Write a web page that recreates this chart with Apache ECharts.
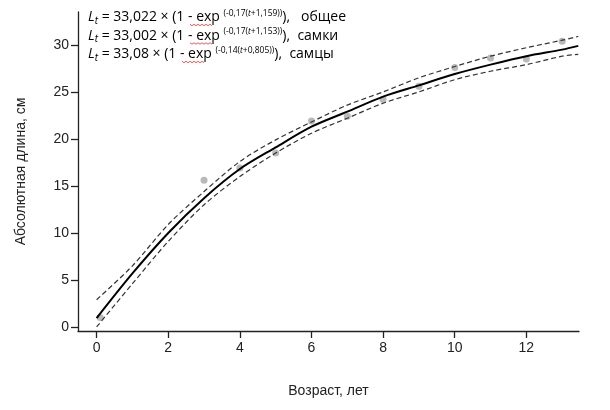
<!DOCTYPE html>
<html>
<head>
<meta charset="utf-8">
<script src="https://cdn.jsdelivr.net/npm/echarts@6/dist/echarts.min.js"></script>
<style>
	html, body { margin: 0; padding: 0; background: #fff; }
	#chart { width: 610px; height: 410px; }
</style>
</head>
<body>
<div id="chart"></div>
<script>
// данные
let ages = [0, 1, 2, 3, 4, 5, 6, 7, 8, 9, 10, 11, 12, 13, 13.45];
let meanLen = [0.95, 5.7, 10.0, 13.7, 16.8, 19.1, 21.3, 22.9, 24.5, 25.7, 26.9, 27.9, 28.8, 29.5, 29.9];
let upperLen = [2.9, 6.5, 10.9, 14.4, 17.6, 19.9, 21.8, 23.6, 25.0, 26.5, 27.7, 28.8, 29.7, 30.5, 30.9];
let lowerLen = [0.0, 4.6, 9.1, 13.0, 16.0, 18.5, 20.6, 22.2, 23.8, 25.0, 26.3, 27.2, 27.9, 28.8, 29.0];

let obsAge = [0.1, 3, 4, 5, 6, 7, 8, 9, 10, 11, 12, 13];
let obsLen = [1.0, 15.6, 16.9, 18.5, 21.9, 22.4, 24.2, 25.6, 27.6, 28.6, 28.5, 30.4];

let xTicks = [0, 2, 4, 6, 8, 10, 12];
let yTicks = [0, 5, 10, 15, 20, 25, 30];

(function() {
	let myChart = echarts.init(document.getElementById('chart'));

	function pairs(xs, ys) {
		return xs.map(function(x, i) { return [x, ys[i]]; });
	}

	let axisFont = { fontFamily: 'Liberation Sans', fontSize: 14, color: '#222' };

	// формулы в левом верхнем углу
	let ff = 'Open Sans';
	let rich = {
		L: { fontFamily: ff, fontSize: 14, fontStyle: 'italic', color: '#111' },
		sub: { fontFamily: ff, fontSize: 10, fontStyle: 'italic', color: '#111', verticalAlign: 'bottom', padding: [6, 0, 0, 0] },
		t: { fontFamily: ff, fontSize: 14, color: '#111' },
		sup: { fontFamily: ff, fontSize: 8.5, color: '#111', verticalAlign: 'top', padding: [0, 0, 8, 0] },
		supi: { fontFamily: ff, fontSize: 8.5, fontStyle: 'italic', color: '#111', verticalAlign: 'top', padding: [0, 0, 8, 0] }
	};
	let formulas = [
		'{L|L}{sub|t}{t| = 33,022 × (1 - exp }{sup|(-0,17(}{supi|t}{sup|+1,159))}{t|),   общее}',
		'{L|L}{sub|t}{t| = 33,002 × (1 - exp }{sup|(-0,17(}{supi|t}{sup|+1,153))}{t|),  самки}',
		'{L|L}{sub|t}{t| = 33,08 × (1 - exp }{sup|(-0,14(}{supi|t}{sup|+0,805))}{t|),  самцы}'
	];
	// начало «exp» в каждой строке (красное волнистое подчёркивание)
	let expLeft = [190, 190, 182];

	let graphics = formulas.map(function(f, i) {
		return {
			type: 'text',
			left: 88,
			top: 9 + i * 18.5,
			style: { text: f, rich: rich }
		};
	});
	expLeft.forEach(function(x0, i) {
		let y0 = 24.5 + i * 18.5;
		let pts = [];
		for (let k = 0; k <= 11; k++) {
			pts.push([x0 + k * 2, y0 + (k % 2 ? 1.2 : -0.2)]);
		}
		graphics.push({
			type: 'polyline',
			shape: { points: pts },
			style: { stroke: '#e03030', lineWidth: 0.8, fill: null }
		});
	});

	let option = {
		animation: false,
		grid: { left: 78, right: 31, top: 12, bottom: 79 },
		xAxis: {
			type: 'value',
			min: -0.52,
			max: 13.47,
			name: 'Возраст, лет',
			nameLocation: 'middle',
			nameGap: 53,
			nameTextStyle: axisFont,
			axisLine: { onZero: false, lineStyle: { color: '#222', width: 1.3 } },
			axisTick: { customValues: xTicks, length: 7, lineStyle: { color: '#222', width: 1.3 } },
			axisLabel: Object.assign({ customValues: xTicks, margin: 10 }, axisFont),
			splitLine: { show: false }
		},
		yAxis: {
			type: 'value',
			min: -0.43,
			max: 33.5,
			name: 'Абсолютная длина, см',
			nameLocation: 'middle',
			nameGap: 50,
			nameTextStyle: axisFont,
			axisLine: { show: true, onZero: false, lineStyle: { color: '#222', width: 1.3 } },
			axisTick: { show: true, customValues: yTicks, length: 7, lineStyle: { color: '#222', width: 1.3 } },
			axisLabel: Object.assign({ customValues: yTicks, margin: 9 }, axisFont),
			splitLine: { show: false }
		},
		graphic: graphics,
		series: [
			{
				type: 'line',
				data: pairs(ages, upperLen),
				smooth: 0.3,
				symbol: 'none',
				lineStyle: { color: '#333', width: 1.2, type: [5, 3] }
			},
			{
				type: 'line',
				data: pairs(ages, lowerLen),
				smooth: 0.3,
				symbol: 'none',
				lineStyle: { color: '#333', width: 1.2, type: [5, 3] }
			},
			{
				type: 'scatter',
				data: pairs(obsAge, obsLen),
				symbolSize: 7,
				itemStyle: { color: '#a8a8a8' },
				z: 1
			},
			{
				type: 'line',
				data: pairs(ages, meanLen),
				smooth: 0.3,
				symbol: 'none',
				lineStyle: { color: '#000', width: 2 }
			}
		]
	};

	myChart.setOption(option);

	window.addEventListener('resize', function() {
		myChart.resize();
	});
})();
</script>
</body>
</html>
